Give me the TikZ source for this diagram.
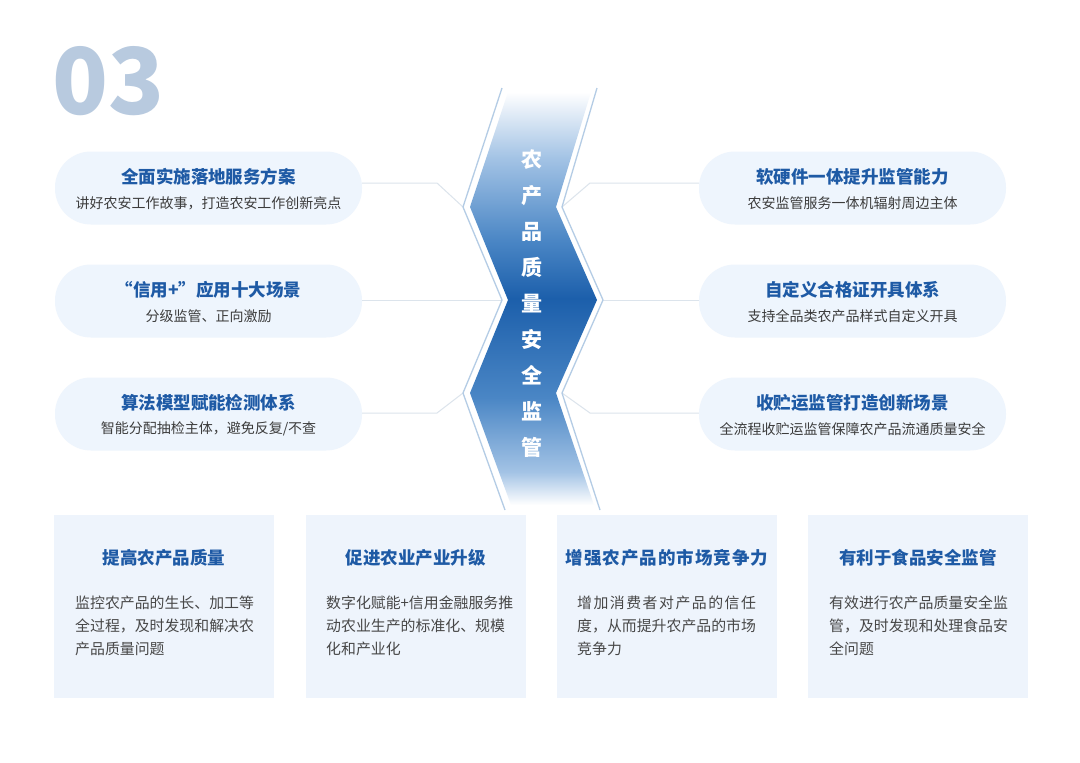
\documentclass[tikz,border=0pt]{standalone}
\usepackage{fontspec}
\setmainfont{Noto Sans CJK SC}
\usetikzlibrary{positioning}
\definecolor{titleblue}{HTML}{1E5AA5}
\definecolor{subgray}{HTML}{3C3C3C}
\definecolor{bodygray}{HTML}{474747}
\definecolor{pillfill}{HTML}{EEF5FD}
\definecolor{boxfill}{HTML}{EEF4FC}
\definecolor{linkgray}{HTML}{DCE4EC}
\definecolor{numblue}{HTML}{B8CADF}
\definecolor{bandline}{HTML}{B4CCE5}
\definecolor{bandA}{HTML}{1C5FAB}
\definecolor{bandB}{HTML}{4A86C5}
\definecolor{bandC}{HTML}{A3C3E5}
\definecolor{bandD}{HTML}{DCE8F5}
\pgfdeclareverticalshading{bandshade}{100bp}{color(0bp)=(white); color(25bp)=(white); color(29bp)=(bandC); color(38bp)=(bandB); color(50bp)=(bandA); color(57bp)=(bandB); color(67bp)=(bandC); color(72bp)=(bandD); color(75bp)=(white); color(100bp)=(white)}
\begin{document}
\begin{tikzpicture}[x=1pt,y=-1pt,
  pill/.style={fill=pillfill,rounded corners=36pt,minimum width=307pt,minimum height=73pt,inner sep=0},
  infobox/.style={fill=boxfill,minimum width=220pt,minimum height=183pt,inner sep=0},
  pilltitle/.style={font=\bfseries\fontsize{17.5}{20}\selectfont,text=titleblue,inner sep=0},
  pillsub/.style={font=\fontsize{14}{16}\selectfont,text=subgray,inner sep=0},
  boxbody/.style={font=\fontsize{14.9}{23}\selectfont,text=bodygray,align=left,anchor=north west,inner sep=0},
  bandchar/.style={font=\bfseries\fontsize{21}{21}\selectfont,text=white,inner sep=0},
  link/.style={draw=linkgray,line width=1pt},
  bandedge/.style={draw=bandline,line width=1.3pt,line join=miter}]
  \useasboundingbox (0,0) rectangle (1080,763);
  \fill[white] (0,0) rectangle (1080,763);
  % big number
  \node[font=\bfseries\fontsize{92}{92}\selectfont,text=numblue,inner sep=0] (num) at (108.5,81.5) {03};
  % side items
  \node[pill] (pl1) at (208.5,188) {};
  \node[pill] (pl2) at (208.5,301) {};
  \node[pill] (pl3) at (208.5,414) {};
  \node[pill] (pr1) at (852.5,188) {};
  \node[pill] (pr2) at (852.5,301) {};
  \node[pill] (pr3) at (852.5,414) {};
  \node[pilltitle] (pl1t) at (208.5,177) {全面实施落地服务方案};
  \node[pillsub] (pl1s) at (208.5,203) {讲好农安工作故事，打造农安工作创新亮点};
  \node[pilltitle] (pl2t) at (208.5,290) {“信用+”应用十大场景};
  \node[pillsub] (pl2s) at (208.5,316) {分级监管、正向激励};
  \node[pilltitle] (pl3t) at (208.5,403) {算法模型赋能检测体系};
  \node[pillsub] (pl3s) at (208.5,429) {智能分配抽检主体，避免反复/不查};
  \node[pilltitle] (pr1t) at (852.5,177) {软硬件一体提升监管能力};
  \node[pillsub] (pr1s) at (852.5,203) {农安监管服务一体机辐射周边主体};
  \node[pilltitle] (pr2t) at (852.5,290) {自定义合格证开具体系};
  \node[pillsub] (pr2s) at (852.5,316) {支持全品类农产品样式自定义开具};
  \node[pilltitle] (pr3t) at (852.5,403) {收贮运监管打造创新场景};
  \node[pillsub] (pr3s) at (852.5,429) {全流程收贮运监管保障农产品流通质量安全};
  % band vertices and bends
  \coordinate (lv1) at (463,207); \coordinate (lv2) at (502,300); \coordinate (lv3) at (463,393);
  \coordinate (rv1) at (562,207); \coordinate (rv2) at (603,300); \coordinate (rv3) at (562,393);
  \coordinate (lb1) at (437,183); \coordinate (lb3) at (437,413);
  \coordinate (rb1) at (590,183); \coordinate (rb3) at (590,413);
  \draw[link] (pl1.east |- lb1) -- (lb1) -- (lv1);
  \draw[link] (pl2.east |- lv2) -- (lv2);
  \draw[link] (pl3.east |- lb3) -- (lb3) -- (lv3);
  \draw[link] (rv1) -- (rb1) -- (rb1 -| pr1.west);
  \draw[link] (rv2) -- (rv2 -| pr2.west);
  \draw[link] (rv3) -- (rb3) -- (rb3 -| pr3.west);
  % central band
  \shade[shading=bandshade] (508,92) -- (470,207) -- (508,300) -- (470,393) -- (511,505) -- (594,505)
    -- (556,393) -- (597,300) -- (556,207) -- (591,92) -- cycle;
  \draw[bandedge] (502,88) -- (lv1) -- (lv2) -- (lv3) -- (505,510);
  \draw[bandedge] (597,88) -- (rv1) -- (rv2) -- (rv3) -- (600,510);
  \foreach \ch [count=\i] in {农,产,品,质,量,安,全,监,管}
    \node[bandchar] (c\i) at (532,{160+35.9*(\i-1)}) {\ch};
  % bottom boxes
  \node[infobox] (b1) at (164,606.5) {};
  \node[infobox] (b2) at (415.5,606.5) {};
  \node[infobox] (b3) at (667,606.5) {};
  \node[infobox] (b4) at (918,606.5) {};
  \node[pilltitle] (b1t) at (164,558) {提高农产品质量};
  \node[pilltitle] (b2t) at (415.5,558) {促进农业产业升级};
  \node[pilltitle] (b3t) at (667,558) {\addfontfeatures{LetterSpace=5.5}增强农产品的市场竞争力};
  \node[pilltitle] (b4t) at (918,558) {有利于食品安全监管};
  \node[boxbody] (b1x) at (75,596) {监控农产品的生长、加工等\\全过程，及时发现和解决农\\产品质量问题};
  \node[boxbody] (b2x) at (326,596) {数字化赋能+信用金融服务推\\动农业生产的标准化、规模\\化和产业化};
  \node[boxbody] (b3x) at (577,596) {{\addfontfeatures{LetterSpace=10}增加消费者对产品的信任}\\度，从而提升农产品的市场\\竞争力};
  \node[boxbody] (b4x) at (829,596) {有效进行农产品质量安全监\\管，及时发现和处理食品安\\全问题};
\end{tikzpicture}
\end{document}
